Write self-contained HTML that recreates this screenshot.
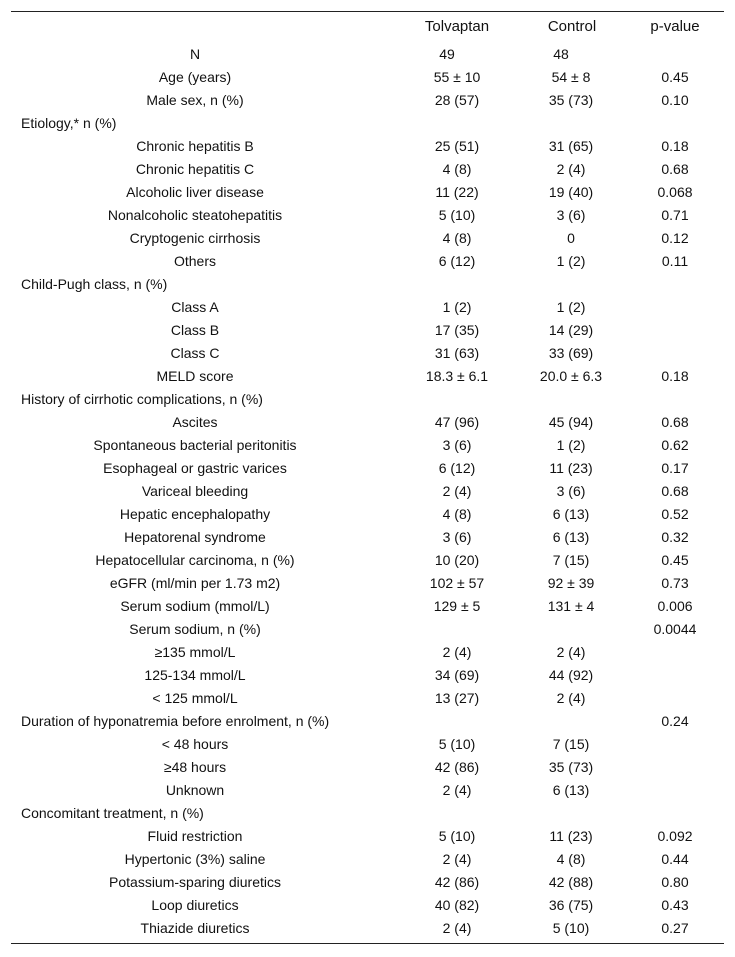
<!DOCTYPE html>
<html><head><meta charset="utf-8"><style>
html,body{margin:0;padding:0;background:#fff;}
body{width:735px;height:957px;position:relative;overflow:hidden;font-family:"Liberation Sans",sans-serif;font-size:14px;color:#111;}
.hl{position:absolute;left:11px;width:713px;height:1px;background:#222;}
.c{position:absolute;white-space:nowrap;line-height:16px;transform:translateX(-50%);}
.l{position:absolute;white-space:nowrap;line-height:16px;left:21px;}
.h{font-size:15px;}
</style></head><body>
<div class="hl" style="top:11px"></div>
<div class="hl" style="top:943px"></div>
<div class="c h" style="left:457px;top:19px">Tolvaptan</div>
<div class="c h" style="left:572px;top:19px">Control</div>
<div class="c h" style="left:675px;top:19px">p-value</div>
<div id="rows"></div>
<script>
const labels=["N","Age (years)","Male sex, n (%)","Etiology,* n (%)","Chronic hepatitis B","Chronic hepatitis C","Alcoholic liver disease","Nonalcoholic steatohepatitis","Cryptogenic cirrhosis","Others","Child-Pugh class, n (%)","Class A","Class B","Class C","MELD score","History of cirrhotic complications, n (%)","Ascites","Spontaneous bacterial peritonitis","Esophageal or gastric varices","Variceal bleeding","Hepatic encephalopathy","Hepatorenal syndrome","Hepatocellular carcinoma, n (%)","eGFR (ml/min per 1.73 m2)","Serum sodium (mmol/L)","Serum sodium, n (%)","≥135 mmol/L","125-134 mmol/L","< 125 mmol/L","Duration of hyponatremia before enrolment, n (%)","< 48 hours","≥48 hours","Unknown","Concomitant treatment, n (%)","Fluid restriction","Hypertonic (3%) saline","Potassium-sparing diuretics","Loop diuretics","Thiazide diuretics"];
const leftAligned=[3,10,15,29,33];
const tolvaptan=["49","55 ± 10","28 (57)","","25 (51)","4 (8)","11 (22)","5 (10)","4 (8)","6 (12)","","1 (2)","17 (35)","31 (63)","18.3 ± 6.1","","47 (96)","3 (6)","6 (12)","2 (4)","4 (8)","3 (6)","10 (20)","102 ± 57","129 ± 5","","2 (4)","34 (69)","13 (27)","","5 (10)","42 (86)","2 (4)","","5 (10)","2 (4)","42 (86)","40 (82)","2 (4)"];
const control=["48","54 ± 8","35 (73)","","31 (65)","2 (4)","19 (40)","3 (6)","0","1 (2)","","1 (2)","14 (29)","33 (69)","20.0 ± 6.3","","45 (94)","1 (2)","11 (23)","3 (6)","6 (13)","6 (13)","7 (15)","92 ± 39","131 ± 4","","2 (4)","44 (92)","2 (4)","","7 (15)","35 (73)","6 (13)","","11 (23)","4 (8)","42 (88)","36 (75)","5 (10)"];
const pvalues=["","0.45","0.10","","0.18","0.68","0.068","0.71","0.12","0.11","","","","","0.18","","0.68","0.62","0.17","0.68","0.52","0.32","0.45","0.73","0.006","0.0044","","","","0.24","","","","","0.092","0.44","0.80","0.43","0.27"];
const host=document.getElementById('rows');
labels.forEach((lab,i)=>{
  const top=46+i*23;
  const row=document.createElement('div');
  
  
  const a=document.createElement('div');
  a.className=leftAligned.includes(i)?'l':'c';
  a.style.top=top+'px';
  if(!leftAligned.includes(i)) a.style.left='195px';
  a.textContent=lab;
  
  
  row.appendChild(a);
  const off=i===0?-10:0;
  [[tolvaptan[i],457+off,'tolvaptan-value'],[control[i],571+off,'control-value'],[pvalues[i],675,'p-value-cell']].forEach(([t,x,n])=>{
    if(!t) return;
    const d=document.createElement('div');
    d.className='c';d.style.left=x+'px';d.style.top=top+'px';d.textContent=t;
    
    
    row.appendChild(d);
  });
  host.appendChild(row);
});
</script>
</body></html>
